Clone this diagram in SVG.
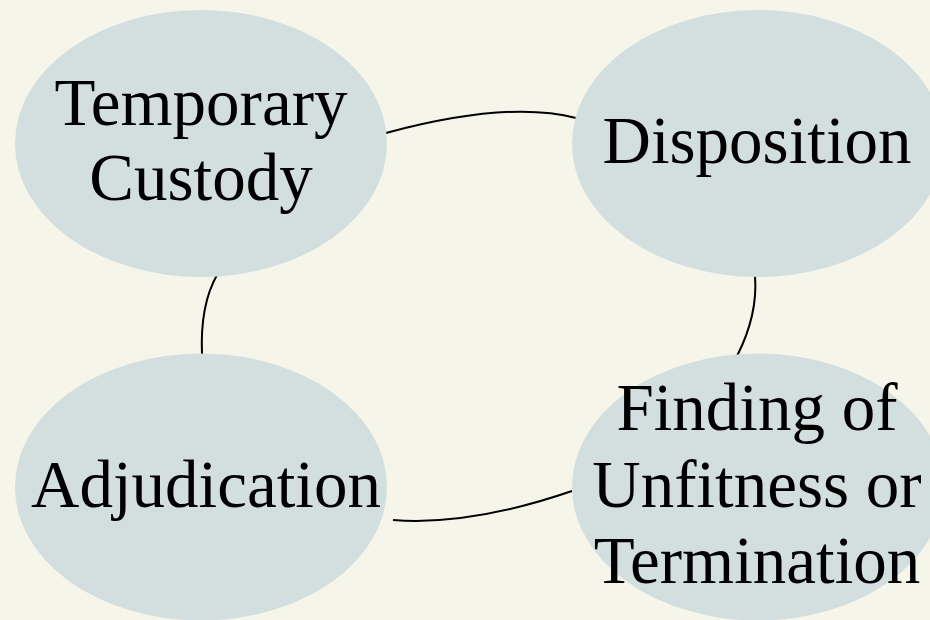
<svg xmlns="http://www.w3.org/2000/svg" width="930" height="620" viewBox="0 0 930 620">
<style>
.node ellipse{fill:#d3dfde;stroke:none}
.node text{font-family:"Liberation Serif","DejaVu Serif",serif;font-size:67px;fill:#000;text-anchor:middle}
.edges path{fill:none;stroke:#000;stroke-width:2}
</style>
<rect width="930" height="620" fill="#f6f5e9"/>
<g class="edges">
<path d="M386,133 Q509,100 576,118"/>
<path d="M217,275 Q200,305 202,354"/>
<path d="M755,276 Q758,315 737,356"/>
<path d="M393,520 Q470,526 572,491"/>
</g>
<g class="node" id="temporary-custody">
<ellipse cx="201" cy="143.5" rx="186" ry="133.5"/>
<text x="201" y="125">Temporary</text>
<text x="201" y="200">Custody</text>
</g>
<g class="node" id="disposition">
<ellipse cx="758" cy="143.5" rx="186" ry="133.5"/>
<text x="757" y="163">Disposition</text>
</g>
<g class="node" id="adjudication">
<ellipse cx="201" cy="487" rx="186" ry="133.5"/>
<text x="206" y="507">Adjudication</text>
</g>
<g class="node" id="finding">
<ellipse cx="758" cy="487" rx="186" ry="133.5"/>
<text x="757" y="430">Finding of</text>
<text x="757" y="507">Unfitness or</text>
<text x="757" y="583">Termination</text>
</g>
</svg>
